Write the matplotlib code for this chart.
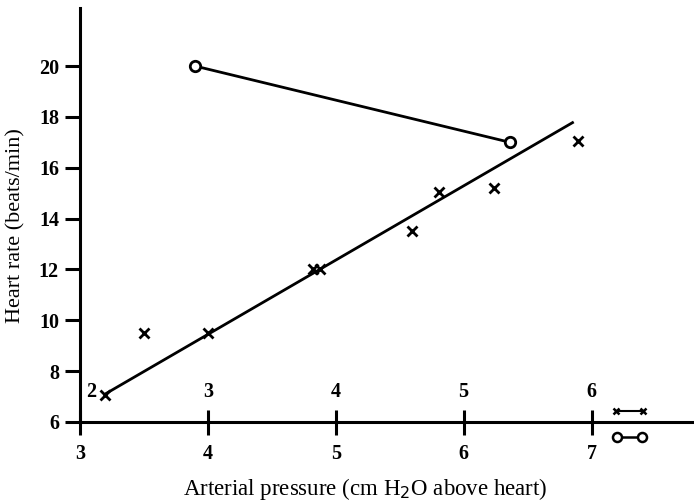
import matplotlib
matplotlib.use('Agg')
import matplotlib.pyplot as plt

# crosses: heart rate vs arterial pressure
cross_x = [3.2, 3.5, 4.0, 4.82, 4.88, 5.6, 5.81, 6.24, 6.89]
cross_y = [7.05, 9.5, 9.5, 12.0, 12.0, 13.5, 15.05, 15.2, 17.05]

# fitted line through the crosses
fit_x = [3.2, 6.86]
fit_y = [7.1, 17.8]

# open circles
circle_x = [3.9, 6.36]
circle_y = [20.0, 17.0]

x_ticks = [3, 4, 5, 6, 7]
top_labels = ['2', '3', '4', '5', '6']
y_ticks = [6, 8, 10, 12, 14, 16, 18, 20]

plt.rcParams['font.family'] = ['Liberation Serif', 'DejaVu Serif']

fig = plt.figure(figsize=(6.94, 5.04), dpi=100)
ax = fig.add_axes([0.115, 0.163, 0.885, 0.822])

ax.plot(fit_x, fit_y, color='black', lw=2.0, solid_capstyle='butt')
ax.plot(cross_x, cross_y, ls='none', marker='x', ms=6.5, mew=2.0, color='black')
ax.plot(circle_x, circle_y, color='black', lw=2.0, marker='o', ms=7.5,
        mfc='white', mec='black', mew=2.0)

ax.set_xlim(3, 7.8)
ax.set_ylim(6, 22.3)

for s in ['top', 'right']:
    ax.spines[s].set_visible(False)
for s in ['left', 'bottom']:
    ax.spines[s].set_linewidth(2.2)

ax.set_xticks(x_ticks)
ax.set_yticks(y_ticks)
ax.tick_params(axis='x', direction='inout', length=18, width=2.2, labelsize=14.5, pad=7)
ax.tick_params(axis='y', direction='out', length=11, width=2.2, labelsize=14.5, pad=4)
for lab in ax.get_xticklabels() + ax.get_yticklabels():
    lab.set_fontweight('bold')

# second scale written above the pressure axis
for i, (xt, lab) in enumerate(zip(x_ticks, top_labels)):
    xpos = xt + 0.09 if i == 0 else xt
    ax.text(xpos, 0.072, lab, transform=ax.get_xaxis_transform(),
            ha='center', va='center', fontsize=14.5, fontweight='bold')

ax.set_xlabel('Arterial pressure (cm H$_2$O above heart)', fontsize=16.5)
ax.xaxis.set_label_coords(0.465, -0.13)
ax.set_ylabel('Heart rate (beats/min)', fontsize=16)
ax.yaxis.set_label_coords(-0.088, 0.473)

# key at the right end of the axis
ax.plot([0.873, 0.917], [0.027, 0.027], transform=ax.transAxes, color='black', lw=1.5,
        marker='x', ms=5, mew=1.8, clip_on=False)
ax.plot([0.875, 0.915], [-0.036, -0.036], transform=ax.transAxes, color='black', lw=1.8,
        marker='o', ms=6.5, mfc='white', mec='black', mew=1.8, clip_on=False)

fig.savefig('out.png', dpi=100)
